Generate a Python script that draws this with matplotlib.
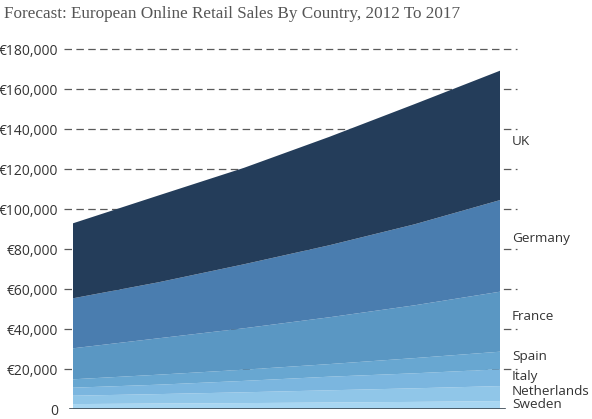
import matplotlib.pyplot as plt
from matplotlib.ticker import FuncFormatter

years = [2012, 2013, 2014, 2015, 2016, 2017]
countries = ["Sweden", "Netherlands", "Italy", "Spain", "France", "Germany", "UK"]

# sales per country, EUR millions
sweden = [2600, 2900, 3100, 3400, 3700, 4100]
netherlands = [4200, 4700, 5400, 6100, 6800, 7500]
italy = [4000, 4700, 5700, 6800, 7500, 8400]
spain = [4200, 5000, 5600, 6300, 7600, 8800]
france = [15500, 18200, 20700, 23400, 26400, 30000]
germany = [25000, 28000, 32000, 36000, 40500, 45800]
uk = [37500, 43400, 48200, 54200, 60100, 64700]

y_ticks = [0, 20000, 40000, 60000, 80000, 100000, 120000, 140000, 160000, 180000]

colors = ["#a7d6f2", "#90c6e8", "#7bb6df", "#68a7d1", "#5a97c3", "#4a7daf", "#243d5a"]
# where the name labels sit on the right (y in axis units)
label_pos = {"UK": 133800, "Germany": 85600, "France": 46300, "Spain": 26600,
             "Italy": 16300, "Netherlands": 8800, "Sweden": 2200}

fig = plt.figure(figsize=(5.92, 4.19), dpi=100)
ax = fig.add_axes([64 / 592, (419 - 409.3) / 419, 453 / 592, 360 / 419])

series = [sweden, netherlands, italy, spain, france, germany, uk]
ax.stackplot(years, series, colors=colors, linewidth=0, zorder=3)

ax.set_xlim(years[0] - 9 / 85.4, years[-1] + 17 / 85.4)
ax.set_ylim(0, 180000)

for v in y_ticks[1:]:
    ax.axhline(v, color="#5a5a5a", lw=0.9, ls=(0, (6, 3.5)), zorder=1, clip_on=False)
ax.axhline(0, xmin=0.013, xmax=0.974, color="#3a4650", lw=1.2, zorder=4)

ax.set_yticks(y_ticks)
ax.yaxis.set_major_formatter(FuncFormatter(lambda v, p: "0" if v == 0 else "\u20ac{:,.0f}".format(v)))
ax.tick_params(axis="y", length=0, pad=4, labelsize=10, labelcolor="#333333")
for lab in ax.get_yticklabels():
    lab.set_family("Open Sans")
ax.set_xticks([])
for s in ax.spines.values():
    s.set_visible(False)

for name in countries:
    ax.text(years[-1] + 12 / 85.4, label_pos[name], name, fontsize=9.7, family="Open Sans",
            color="#333333", va="center", ha="left", clip_on=False)

fig.text(4 / 592, 1 - 14 / 419, "Forecast: European Online Retail Sales By Country, 2012 To 2017",
         fontsize=12.3, family="Liberation Serif", color="#555555", va="center", ha="left")

fig.savefig("out.png", dpi=100)
